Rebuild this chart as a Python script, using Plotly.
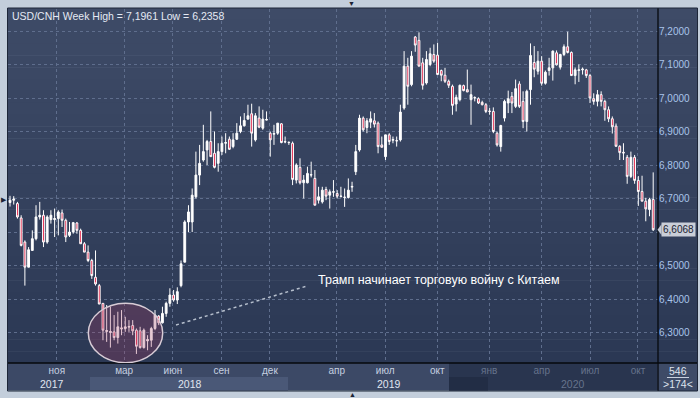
import plotly.graph_objects as go

# ---------------- data (weekly USD/CNH candles) ----------------
open_ = [6.688, 6.695, 6.685, 6.642, 6.570, 6.495, 6.545, 6.580, 6.645, 6.650,
         6.570, 6.637, 6.637, 6.640, 6.657, 6.635, 6.590, 6.600, 6.627, 6.605,
         6.565, 6.540, 6.515, 6.465, 6.440, 6.387, 6.303, 6.300, 6.302, 6.285,
         6.314, 6.312, 6.316, 6.321, 6.307, 6.305, 6.255, 6.275, 6.277, 6.312,
         6.349, 6.329, 6.357, 6.387, 6.412, 6.397,
         6.440, 6.510, 6.630, 6.630, 6.705, 6.770, 6.815, 6.845, 6.870, 6.835,
         6.805, 6.840, 6.865, 6.877, 6.855, 6.877, 6.900, 6.917, 6.937, 6.953,
         6.875, 6.940, 6.910, 6.934, 6.895, 6.892, 6.895, 6.923, 6.870, 6.868,
         6.865, 6.755, 6.793, 6.747, 6.747, 6.770, 6.760, 6.695, 6.690, 6.727,
         6.710, 6.719, 6.715, 6.706, 6.703, 6.703, 6.734,
         6.780, 6.845, 6.940, 6.912, 6.928, 6.932, 6.925, 6.860, 6.825, 6.890,
         6.874, 6.873, 6.875, 6.970, 7.095, 7.040, 7.182, 7.172, 7.105, 7.045,
         7.100, 7.130, 7.128, 7.082, 7.068, 7.050, 7.035, 6.982, 6.995, 7.037,
         7.025, 6.995, 7.000, 6.998, 6.987, 6.980, 6.961, 6.960, 6.895, 6.855,
         6.940, 6.985, 7.005, 6.975, 7.042, 6.990, 6.930, 7.025,
         7.106, 7.080, 7.110, 7.044, 7.082, 7.090, 7.135, 7.092, 7.130, 7.153,
         7.136, 7.067, 7.082, 7.084, 7.084, 7.067, 6.998, 6.990, 7.010, 6.990,
         6.965, 6.938, 6.916, 6.856, 6.838, 6.823, 6.766, 6.823, 6.754, 6.721,
         6.692, 6.667, 6.697]
high = [6.708, 6.707, 6.690, 6.650, 6.575, 6.555, 6.605, 6.680, 6.690, 6.665,
        6.650, 6.665, 6.670, 6.665, 6.667, 6.640, 6.630, 6.630, 6.630, 6.610,
        6.570, 6.560, 6.520, 6.545, 6.445, 6.387, 6.382, 6.377, 6.352, 6.362,
        6.367, 6.347, 6.337, 6.337, 6.312, 6.317, 6.312, 6.292, 6.317, 6.367,
        6.352, 6.377, 6.392, 6.432, 6.427, 6.435,
        6.515, 6.635, 6.680, 6.730, 6.840, 6.860, 6.920, 6.875, 6.960, 6.900,
        6.865, 6.885, 6.895, 6.885, 6.895, 6.925, 6.945, 6.955, 6.980, 6.983,
        6.955, 6.975, 6.965, 6.960, 6.900, 6.920, 6.925, 6.925, 6.885, 6.870,
        6.870, 6.805, 6.820, 6.770, 6.795, 6.810, 6.785, 6.735, 6.735, 6.735,
        6.727, 6.755, 6.725, 6.735, 6.730, 6.760, 6.750,
        6.860, 6.950, 6.945, 6.940, 6.960, 6.955, 6.930, 6.885, 6.890, 6.895,
        6.885, 6.885, 6.980, 7.140, 7.120, 7.140, 7.185, 7.196, 7.120, 7.140,
        7.150, 7.160, 7.165, 7.085, 7.090, 7.055, 7.040, 7.010, 7.040, 7.040,
        7.085, 7.040, 7.005, 7.002, 6.992, 6.985, 6.970, 6.972, 6.900, 6.920,
        6.995, 7.022, 7.018, 7.055, 7.050, 7.020, 7.025, 7.163,
        7.155, 7.140, 7.125, 7.082, 7.120, 7.142, 7.142, 7.132, 7.160, 7.198,
        7.139, 7.091, 7.100, 7.091, 7.087, 7.072, 7.014, 7.024, 7.020, 6.995,
        6.975, 6.945, 6.924, 6.859, 6.865, 6.830, 6.840, 6.830, 6.767, 6.768,
        6.702, 6.702, 6.778]
low = [6.676, 6.682, 6.640, 6.557, 6.440, 6.495, 6.545, 6.575, 6.637, 6.555,
       6.565, 6.625, 6.585, 6.590, 6.615, 6.570, 6.585, 6.595, 6.595, 6.565,
       6.540, 6.510, 6.460, 6.440, 6.385, 6.277, 6.272, 6.255, 6.277, 6.267,
       6.292, 6.302, 6.302, 6.292, 6.236, 6.252, 6.252, 6.247, 6.257, 6.307,
       6.322, 6.327, 6.347, 6.377, 6.392, 6.385,
       6.435, 6.510, 6.600, 6.600, 6.700, 6.740, 6.810, 6.800, 6.825, 6.790,
       6.780, 6.830, 6.835, 6.845, 6.850, 6.875, 6.895, 6.915, 6.935, 6.855,
       6.870, 6.910, 6.905, 6.933, 6.825, 6.860, 6.890, 6.865, 6.865, 6.860,
       6.740, 6.745, 6.742, 6.700, 6.745, 6.763, 6.680, 6.685, 6.685, 6.695,
       6.670, 6.705, 6.700, 6.703, 6.675, 6.700, 6.720,
       6.770, 6.840, 6.900, 6.895, 6.910, 6.912, 6.835, 6.852, 6.815, 6.860,
       6.865, 6.855, 6.870, 6.965, 6.980, 7.035, 7.138, 7.095, 7.025, 7.040,
       7.095, 7.105, 7.070, 7.050, 7.045, 7.030, 6.950, 6.960, 6.990, 7.020,
       7.018, 6.920, 6.990, 6.982, 6.978, 6.955, 6.950, 6.895, 6.855, 6.840,
       6.930, 6.955, 6.955, 6.970, 6.970, 6.910, 6.900, 6.980,
       7.062, 7.070, 7.037, 7.040, 7.067, 7.052, 7.097, 7.085, 7.125, 7.133,
       7.067, 7.041, 7.048, 7.070, 7.060, 6.985, 6.980, 6.975, 6.975, 6.932,
       6.928, 6.894, 6.854, 6.815, 6.815, 6.744, 6.761, 6.744, 6.678, 6.692,
       6.632, 6.647, 6.603]
close = [6.695, 6.698, 6.645, 6.560, 6.495, 6.547, 6.580, 6.645, 6.650, 6.570,
         6.645, 6.650, 6.640, 6.660, 6.635, 6.585, 6.600, 6.628, 6.605, 6.565,
         6.540, 6.515, 6.470, 6.445, 6.385, 6.307, 6.306, 6.303, 6.285, 6.317,
         6.311, 6.317, 6.318, 6.305, 6.259, 6.255, 6.307, 6.279, 6.312, 6.352,
         6.329, 6.357, 6.387, 6.412, 6.397, 6.422,
         6.505, 6.630, 6.660, 6.710, 6.770, 6.805, 6.840, 6.870, 6.825, 6.793,
         6.840, 6.865, 6.867, 6.847, 6.875, 6.895, 6.917, 6.933, 6.947, 6.895,
         6.947, 6.913, 6.937, 6.936, 6.875, 6.894, 6.925, 6.867, 6.869, 6.867,
         6.757, 6.800, 6.747, 6.755, 6.775, 6.771, 6.680, 6.705, 6.725, 6.707,
         6.720, 6.720, 6.707, 6.707, 6.704, 6.725, 6.736,
         6.840, 6.940, 6.905, 6.932, 6.938, 6.922, 6.855, 6.853, 6.890, 6.870,
         6.876, 6.872, 6.958, 7.095, 7.035, 7.125, 7.158, 7.095, 7.038, 7.115,
         7.132, 7.110, 7.070, 7.068, 7.050, 7.038, 6.978, 7.002, 7.038, 7.022,
         7.018, 7.010, 7.001, 6.985, 6.980, 6.960, 6.960, 6.900, 6.860, 6.918,
         6.990, 6.998, 6.985, 7.028, 6.975, 6.930, 7.020, 7.127,
         7.086, 7.110, 7.044, 7.077, 7.090, 7.140, 7.099, 7.130, 7.153, 7.136,
         7.067, 7.084, 7.084, 7.086, 7.067, 7.000, 6.990, 7.010, 6.990, 6.965,
         6.938, 6.914, 6.856, 6.837, 6.836, 6.766, 6.823, 6.754, 6.721, 6.692,
         6.669, 6.697, 6.6068]
bar_index = list(range(len(close)))

month_ticks = [12.6, 30.7, 43.8, 56.9, 69.9, 87.9, 100.9, 114.9, 128.9, 143.0, 156.0, 168.9]
month_labels = ["ноя", "мар", "июн", "сен", "дек", "апр", "июл", "окт", "янв", "апр", "июл", "окт"]
month_dim = [False] * 8 + [True] * 4
year_pos = [11.2, 48.4, 101.9, 151.4]
year_labels = ["2017", "2018", "2019", "2020"]
year_dim = [False, False, False, True]
price_ticks = [6.3, 6.4, 6.5, 6.6, 6.7, 6.8, 6.9, 7.0, 7.1, 7.2]
# the 6,6000 label sits under the current-price tag in the reference
price_labels = ["6,3000", "6,4000", "6,5000", "", "6,7000",
                "6,8000", "6,9000", "7,0000", "7,1000", "7,2000"]
last_price = 6.6068
title_text = "USD/CNH Week High = 7,1961 Low = 6,2358"
note_text = "Трамп начинает торговую войну с Китаем"
bars_total, bars_visible = "546", ">174<"

# ---------------- geometry helpers (pixels -> paper) ----------------
W, H = 700, 398
L, R, T, B = 8, 42, 9, 35
PW, PH = W - L - R, H - T - B
def px(x):
    return (x - L) / PW
def py(y):
    return (H - B - y) / PH

FONT = "Liberation Sans, Arial, sans-serif"
GRID = "#5f6e8d"

fig = go.Figure()
fig.add_trace(go.Candlestick(
    x=bar_index, open=open_, high=high, low=low, close=close,
    increasing=dict(line=dict(color="#ffffff", width=1), fillcolor="#ffffff"),
    decreasing=dict(line=dict(color="#ffffff", width=1), fillcolor="#e0143c"),
    whiskerwidth=0, hoverinfo="skip", showlegend=False,
))

shapes = []
# vertical gradient background of the dark panel
top_c, bot_c = (62, 75, 103), (43, 56, 84)
N = 30
for k in range(N):
    y0 = 8 + (363 - 8) * k / N
    y1 = 8 + (363 - 8) * (k + 1) / N
    t = (k + 0.5) / N
    c = tuple(round(top_c[i] + (bot_c[i] - top_c[i]) * t) for i in range(3))
    shapes.append(dict(type="rect", xref="paper", yref="paper", layer="below",
                       x0=px(7.5), x1=px(697.5), y0=py(y1 + 0.5), y1=py(y0),
                       fillcolor="rgb(%d,%d,%d)" % c, line=dict(width=0)))
# date strip
shapes.append(dict(type="rect", xref="paper", yref="paper", layer="below",
                   x0=px(7.5), x1=px(658), y0=py(390.5), y1=py(363),
                   fillcolor="#3c4966", line=dict(width=0)))
shapes.append(dict(type="rect", xref="paper", yref="paper", layer="below",
                   x0=px(90), x1=px(288), y0=py(390.5), y1=py(377),
                   fillcolor="#4a5877", line=dict(width=0)))
shapes.append(dict(type="rect", xref="paper", yref="paper", layer="below",
                   x0=px(449), x1=px(657), y0=py(390.5), y1=py(363),
                   fillcolor="#29354f", line=dict(width=0)))
shapes.append(dict(type="rect", xref="paper", yref="paper", layer="below",
                   x0=px(449), x1=px(488), y0=py(390.5), y1=py(377),
                   fillcolor="#222d45", line=dict(width=0)))
# bottom-right box
shapes.append(dict(type="rect", xref="paper", yref="paper", layer="below",
                   x0=px(658), x1=px(697.5), y0=py(391), y1=py(363),
                   fillcolor="#3e4b67", line=dict(width=0)))
shapes.append(dict(type="line", xref="paper", yref="paper",
                   x0=px(667), x1=px(689), y0=py(377.5), y1=py(377.5),
                   line=dict(color="#c8d0de", width=1)))
# frame lines
shapes.append(dict(type="line", xref="paper", yref="paper",
                   x0=px(658), x1=px(658), y0=py(391), y1=py(8),
                   line=dict(color="#06080d", width=1.3)))
shapes.append(dict(type="line", xref="paper", yref="paper",
                   x0=px(7.5), x1=px(697.5), y0=py(363), y1=py(363),
                   line=dict(color="#06080d", width=1.3)))
shapes.append(dict(type="rect", xref="paper", yref="paper",
                   x0=px(7.5), x1=px(697.5), y0=py(391), y1=py(8),
                   line=dict(color="#1d2638", width=1)))
# highlight ellipse and leader line
shapes.append(dict(type="circle", xref="x", yref="y", layer="above",
                   x0=21.06, x1=41.07, y0=6.2099, y1=6.3872,
                   fillcolor="rgba(170,60,100,0.28)",
                   line=dict(color="#d8ccd6", width=1.5)))
shapes.append(dict(type="line", xref="x", yref="y",
                   x0=44.65, y0=6.3224, x1=79.88, y1=6.4388,
                   line=dict(color="#b6bfcd", width=1.5, dash="dot")))
# price marker notch
shapes.append(dict(type="path", xref="paper", yref="y",
                   path="M %f,%f L %f,%f L %f,%f Z" % (
                       px(657.5), last_price, px(661.5), last_price + 0.016,
                       px(661.5), last_price - 0.016),
                   fillcolor="#c9ced8", line=dict(width=0)))

annotations = [
    dict(text=title_text, xref="paper", yref="paper", x=px(10), y=py(15.5),
         xanchor="left", yanchor="middle", showarrow=False,
         font=dict(family=FONT, size=10.5, color="#e4e9f3")),
    dict(text=note_text, xref="x", yref="y", x=82.3, y=6.4567,
         xanchor="left", yanchor="middle", showarrow=False,
         font=dict(family=FONT, size=12.5, color="#ffffff")),
    dict(text=f"{last_price:.4f}".replace(".", ","), xref="paper", yref="y",
         x=px(661), y=last_price, xanchor="left", yanchor="middle", showarrow=False,
         bgcolor="#c9ced8", borderpad=1,
         font=dict(family=FONT, size=10, color="#1a2232")),
    dict(text=bars_total, xref="paper", yref="paper", x=px(678), y=py(370.5),
         xanchor="center", yanchor="middle", showarrow=False,
         font=dict(family=FONT, size=10.5, color="#dde3ee")),
    dict(text=bars_visible, xref="paper", yref="paper", x=px(678), y=py(384),
         xanchor="center", yanchor="middle", showarrow=False,
         font=dict(family=FONT, size=10.5, color="#dde3ee")),
    dict(text="▼", xref="paper", yref="paper", x=px(351), y=py(3),
         xanchor="center", yanchor="middle", showarrow=False,
         font=dict(family=FONT, size=7, color="#1b2335")),
    dict(text="▲", xref="paper", yref="paper", x=px(352), y=py(394.5),
         xanchor="center", yanchor="middle", showarrow=False,
         font=dict(family=FONT, size=7, color="#1b2335")),
    dict(text="▶", xref="paper", yref="paper", x=px(3.5), y=py(199),
         xanchor="center", yanchor="middle", showarrow=False,
         font=dict(family=FONT, size=7, color="#1b2335")),
]
for pos, lab, dim in zip(year_pos, year_labels, year_dim):
    annotations.append(dict(text=lab, xref="x", yref="paper", x=pos, y=py(383.5),
                            xanchor="center", yanchor="middle", showarrow=False,
                            font=dict(family=FONT, size=10.5,
                                      color="#66738c" if dim else "#e0e6f0")))

tick_text = [f'<span style="color:#66738c">{m}</span>' if d else m
             for m, d in zip(month_labels, month_dim)]

fig.update_layout(
    width=W, height=H,
    margin=dict(l=L, r=R, t=T, b=B, autoexpand=False),
    paper_bgcolor="#c3cedb", plot_bgcolor="rgba(0,0,0,0)",
    shapes=shapes, annotations=annotations, showlegend=False,
    xaxis=dict(range=[-0.54, 174.29], rangeslider=dict(visible=False),
               tickvals=month_ticks, ticktext=tick_text, ticks="",
               showgrid=True, gridcolor=GRID, griddash="3px,3px", gridwidth=1,
               zeroline=False, showline=False, fixedrange=True,
               tickfont=dict(family=FONT, size=10, color="#c6d0e0")),
    yaxis=dict(range=[6.209, 7.2657], side="right",
               tickvals=price_ticks, ticktext=price_labels, ticks="",
               showgrid=True, gridcolor=GRID, griddash="3px,3px", gridwidth=1,
               zeroline=False, showline=False, fixedrange=True,
               tickfont=dict(family=FONT, size=10, color="#a9c4ea")),
    hovermode=False,
)

fig.write_html("out.html", config={"displayModeBar": False},
               post_script="document.body.style.margin='0';document.body.style.overflow='hidden';")
